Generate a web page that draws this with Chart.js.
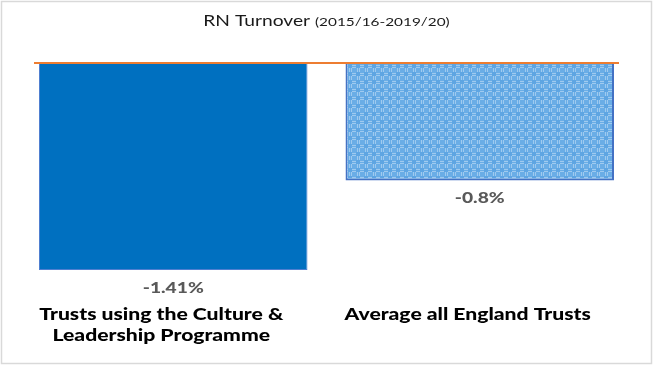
<!DOCTYPE html>
<html>
<head>
<meta charset="utf-8">
<script src="https://cdn.jsdelivr.net/npm/chart.js@4/dist/chart.umd.min.js"></script>
<style>
  html, body { margin: 0; padding: 0; background: #fff; }
  #wrap { width: 653px; height: 365px; }
</style>
</head>
<body>
<div id="wrap"><canvas id="rn_turnover" width="653" height="365"></canvas></div>
<script>
var categories = [['Trusts using the Culture &', 'Leadership Programme'], ['Average all England Trusts']];
var turnover = [-1.41, -0.8];
var valueLabels = ['-1.41%', '-0.8%'];
var titleMain = 'RN Turnover';
var titleSub = '(2015/16-2019/20)';

// the original picture is stretched sideways, so text is widened a bit
var TEXT_STRETCH = 1.28;

// checkered light blue fill like the Excel pattern
function makePattern() {
  var c = document.createElement('canvas');
  c.width = 8; c.height = 8;
  var p = c.getContext('2d');
  p.fillStyle = '#6aade6';
  p.fillRect(0, 0, 8, 8);
  p.fillStyle = '#9fcaef';
  p.fillRect(0, 1, 4, 1);
  p.fillRect(0, 3, 4, 1);
  p.fillRect(5, 4, 1, 4);
  p.fillRect(7, 4, 1, 4);
  p.fillStyle = '#5ea5e2';
  p.fillRect(4, 0, 4, 4);
  return p.createPattern(c, 'repeat');
}

function wideText(ctx, text, x, y) {
  ctx.save();
  ctx.translate(x, y);
  ctx.scale(TEXT_STRETCH, 1);
  ctx.fillText(text, 0, 0);
  ctx.restore();
}

var decor = {
  id: 'decor',
  beforeDraw: function(chart) {
    var ctx = chart.ctx;
    ctx.save();
    ctx.strokeStyle = '#d9d9d9';
    ctx.lineWidth = 1.5;
    ctx.strokeRect(1.5, 1.5, chart.width - 3, chart.height - 3);
    ctx.restore();
  },
  afterDatasetsDraw: function(chart) {
    var ctx = chart.ctx, area = chart.chartArea;
    var x = chart.scales.x, y = chart.scales.y;
    ctx.save();

    // zero line
    var y0 = y.getPixelForValue(0);
    ctx.strokeStyle = '#ED7D31';
    ctx.lineWidth = 2;
    ctx.beginPath();
    ctx.moveTo(area.left + 14, y0);
    ctx.lineTo(area.right - 14, y0);
    ctx.stroke();

    // value labels under the bars
    ctx.font = '900 15px Lato';
    ctx.fillStyle = '#595959';
    ctx.textAlign = 'center';
    ctx.textBaseline = 'alphabetic';
    chart.getDatasetMeta(0).data.forEach(function(bar, i) {
      wideText(ctx, valueLabels[i], bar.x, bar.y + 23);
    });

    // category labels
    ctx.font = '900 16.5px Lato';
    ctx.fillStyle = '#000';
    categories.forEach(function(lines, i) {
      var cx = x.getPixelForValue(i) - 12;
      lines.forEach(function(t, j) {
        wideText(ctx, t, cx, area.bottom + 50 + j * 21);
      });
    });

    // title, two sizes on one line
    var cx = (area.left + area.right) / 2;
    ctx.font = '15px Lato';
    var w1 = ctx.measureText(titleMain + ' ').width;
    ctx.font = '12px Lato';
    var w2 = ctx.measureText(titleSub).width;
    var sx = cx - (w1 + w2) * TEXT_STRETCH / 2;
    ctx.textAlign = 'left';
    ctx.fillStyle = '#1a1a1a';
    ctx.font = '15px Lato';
    wideText(ctx, titleMain + ' ', sx, 26);
    ctx.font = '12px Lato';
    wideText(ctx, titleSub, sx + w1 * TEXT_STRETCH, 26);
    ctx.restore();
  }
};

new Chart(document.getElementById('rn_turnover'), {
  type: 'bar',
  data: {
    labels: categories,
    datasets: [{
      data: turnover,
      backgroundColor: ['#0070C0', makePattern()],
      borderColor: ['#4f7fd0', '#4472C4'],
      borderWidth: [1, 2],
      borderSkipped: 'start',
      barPercentage: 0.876,
      categoryPercentage: 1
    }]
  },
  options: {
    responsive: false,
    animation: false,
    layout: { padding: { left: 20, right: 20, top: 63, bottom: 95 } },
    plugins: {
      legend: { display: false },
      tooltip: { enabled: false },
      title: { display: false }
    },
    scales: {
      x: { display: false },
      y: { display: false, min: Math.min.apply(null, turnover), max: 0 }
    }
  },
  plugins: [decor]
});
</script>
</body>
</html>
